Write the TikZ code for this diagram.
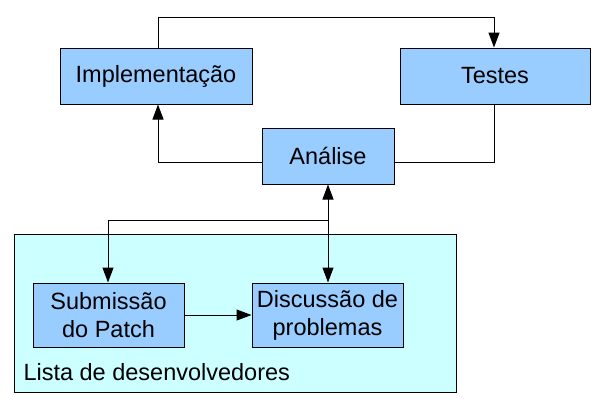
\documentclass[tikz,border=0pt]{standalone}
\usepackage{fontspec}
\setmainfont{Liberation Sans}
\usetikzlibrary{arrows.meta}
\definecolor{boxblue}{HTML}{99CCFF}
\definecolor{listcyan}{HTML}{CCFFFF}
\begin{document}
\begin{tikzpicture}[x=1pt,y=-1pt,
  line width=1pt,
  every node/.style={font=\fontsize{23.5}{28}\selectfont},
  procbox/.style={draw=black, fill=boxblue, rectangle, inner sep=0pt, align=center},
  groupbox/.style={draw=black, fill=listcyan, rectangle, inner sep=0pt},
  arr/.style={-{Triangle[length=15pt,width=11pt]}}]
\useasboundingbox (0,0) rectangle (602,408);

% developer list container
\node[groupbox, minimum width=442pt, minimum height=158pt] (lista) at (235,313) {};
\node[anchor=base west, inner sep=0pt] (listalabel) at (23,380) {Lista de desenvolvedores};

% process boxes
\node[procbox, minimum width=192pt, minimum height=56pt] (impl) at (156,76) {Implementação};
\node[procbox, minimum width=190pt, minimum height=56pt] (testes) at (495,76) {Testes};
\node[procbox, minimum width=132pt, minimum height=56pt] (analise) at (328,156) {Análise};
\node[procbox, minimum width=151pt, minimum height=64pt] (sub) at (108.5,315) {Submissão\\do Patch};
\node[procbox, minimum width=151pt, minimum height=64pt] (disc) at (327.5,315) {Discussão de\\problemas};

% cycle connectors
\draw[arr] ([xshift=2pt]impl.north) -- ++(0,-30) -| ([xshift=-1pt]testes.north);
\draw[arr] ([yshift=-6pt]analise.west) -| ([xshift=2pt]impl.south);
\draw ([yshift=-6pt]analise.east) -| ([xshift=-1pt]testes.south);

% links between analysis and the list
\coordinate (branch) at (328,220);
\draw[arr] (branch) -- (analise.south);
\draw[arr] (branch) -- (branch |- disc.north);
\draw[arr] (branch) -| ([xshift=-0.5pt]sub.north);
\draw[arr] (sub.east) -- (disc.west);
\end{tikzpicture}
\end{document}
